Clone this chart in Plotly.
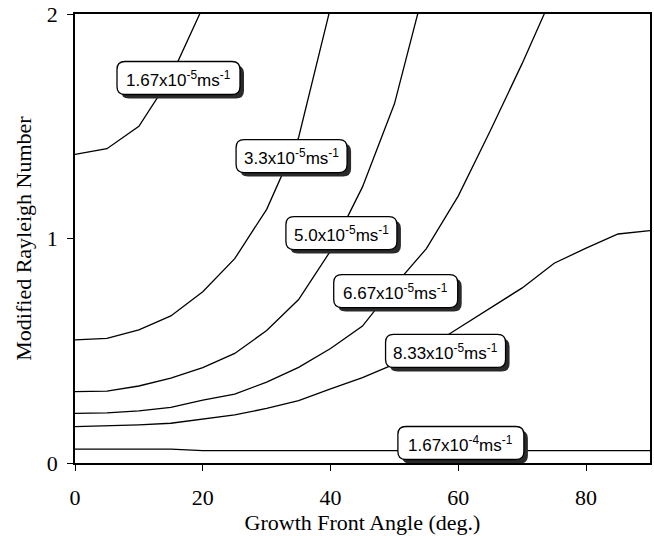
import plotly.graph_objects as go

# Growth front angle (deg.)
angle = [0, 5, 10, 15, 20, 25, 30, 35, 40, 45, 50, 55, 60, 65, 70, 75, 80, 85, 90]

# Modified Rayleigh number for each growth velocity
ra_167e5 = [1.375, 1.40, 1.50, 1.72, 2.03]
ra_33e5 = [0.548, 0.555, 0.593, 0.655, 0.763, 0.91, 1.13, 1.45, 2.03]
ra_50e5 = [0.318, 0.32, 0.343, 0.378, 0.425, 0.488, 0.59, 0.728, 0.945, 1.23, 1.60, 2.15]
ra_667e5 = [0.221, 0.223, 0.232, 0.248, 0.28, 0.307, 0.36, 0.426, 0.51, 0.61, 0.79, 0.955, 1.19, 1.48, 1.78, 2.1]
ra_833e5 = [0.162, 0.165, 0.170, 0.177, 0.196, 0.214, 0.243, 0.278, 0.33, 0.38, 0.44, 0.51, 0.60, 0.69, 0.78, 0.89, 0.957, 1.02, 1.035]
ra_167e4 = [0.062, 0.062, 0.062, 0.062, 0.055, 0.055, 0.055, 0.055, 0.055, 0.055, 0.055, 0.055, 0.055, 0.055, 0.055, 0.055, 0.055, 0.055, 0.055]

series = [ra_167e5, ra_33e5, ra_50e5, ra_667e5, ra_833e5, ra_167e4]

label_texts = [
    "1.67x10<sup>-5</sup>ms<sup>-1</sup>",
    "3.3x10<sup>-5</sup>ms<sup>-1</sup>",
    "5.0x10<sup>-5</sup>ms<sup>-1</sup>",
    "6.67x10<sup>-5</sup>ms<sup>-1</sup>",
    "8.33x10<sup>-5</sup>ms<sup>-1</sup>",
    "1.67x10<sup>-4</sup>ms<sup>-1</sup>",
]
label_x = [16.2, 33.9, 41.7, 50.2, 58.0, 60.4]
label_y = [1.715, 1.367, 1.024, 0.766, 0.499, 0.089]
# label box sizes in pixels (width, height)
label_w = [123, 111, 111, 124, 120, 126]
label_h = 33

fig = go.Figure()
for s in series:
    fig.add_trace(go.Scatter(
        x=angle[:len(s)], y=s, mode="lines",
        line=dict(color="black", width=1.3), showlegend=False,
    ))


def rounded_rect(w, h, r, dx=0.0, dy=0.0):
    a, b = w / 2.0, h / 2.0
    pts = [
        f"M {-a + r + dx},{b + dy}",
        f"L {a - r + dx},{b + dy}",
        f"Q {a + dx},{b + dy} {a + dx},{b - r + dy}",
        f"L {a + dx},{-b + r + dy}",
        f"Q {a + dx},{-b + dy} {a - r + dx},{-b + dy}",
        f"L {-a + r + dx},{-b + dy}",
        f"Q {-a + dx},{-b + dy} {-a + dx},{-b + r + dy}",
        f"L {-a + dx},{b - r + dy}",
        f"Q {-a + dx},{b + dy} {-a + r + dx},{b + dy}",
        "Z",
    ]
    return " ".join(pts)


shapes = []
annotations = []
lab_font = dict(family="Liberation Sans, Arial, sans-serif", size=17, color="black")
for t, lx, ly, w in zip(label_texts, label_x, label_y, label_w):
    common = dict(type="path", xref="x", yref="y", xsizemode="pixel", ysizemode="pixel",
                  xanchor=lx, yanchor=ly, layer="above")
    shapes.append(dict(common, path=rounded_rect(w, label_h, 8, 4, -4),
                       fillcolor="#2a2a2a", line=dict(width=0)))
    shapes.append(dict(common, path=rounded_rect(w, label_h, 8),
                       fillcolor="white", line=dict(color="black", width=1.3)))
    annotations.append(dict(
        x=lx, y=ly, xref="x", yref="y", text=t, showarrow=False,
        font=lab_font, yshift=-1,
    ))

serif = "Liberation Serif, Times New Roman, serif"
fig.update_layout(
    width=654, height=536,
    margin=dict(l=75, r=4, t=14, b=73),
    paper_bgcolor="white", plot_bgcolor="white",
    shapes=shapes, annotations=annotations,
    font=dict(family=serif, color="black"),
    xaxis=dict(
        range=[0, 90], tickvals=[0, 20, 40, 60, 80], automargin=False,
        showgrid=False, zeroline=False,
        showline=True, linecolor="black", linewidth=1.5, mirror=True,
        ticks="outside", ticklen=6, tickcolor="black", tickwidth=1,
        tickfont=dict(family=serif, size=22), ticklabelstandoff=8,
        title=dict(text="Growth Front Angle (deg.)", font=dict(family=serif, size=22), standoff=3),
    ),
    yaxis=dict(
        range=[0, 2], tickvals=[0, 1, 2], automargin=False,
        showgrid=False, zeroline=False,
        showline=True, linecolor="black", linewidth=1.5, mirror=True,
        ticks="outside", ticklen=6, tickcolor="black", tickwidth=1,
        tickfont=dict(family=serif, size=22), ticklabelstandoff=5,
        title=dict(text="Modified Rayleigh Number", font=dict(family=serif, size=22), standoff=9),
    ),
)

fig.write_html("out.html", config={"displayModeBar": False},
               post_script="document.body.style.margin='0';")
